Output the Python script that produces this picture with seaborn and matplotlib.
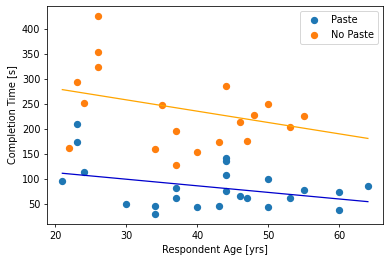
import matplotlib
matplotlib.use("Agg")
import matplotlib.pyplot as plt
import pandas as pd
import seaborn as sns

# Paste group
paste_age = [21, 23, 23, 24, 30, 34, 34, 37, 37, 40, 43, 44, 44, 44, 44,
             46, 47, 50, 50, 53, 55, 60, 60, 64]
paste_time = [95, 210, 173, 113, 50, 46, 29, 81, 62, 44, 46, 142, 136, 107, 75,
              66, 62, 99, 44, 62, 77, 73, 38, 85]

# No Paste group
nopaste_age = [22, 23, 24, 26, 26, 26, 34, 35, 37, 37, 40, 43, 44, 46, 47,
               48, 50, 53, 55]
nopaste_time = [161, 294, 252, 427, 355, 325, 160, 249, 196, 128, 153, 173, 286, 214, 175,
                228, 250, 204, 226]

# trend lines (over the full age range)
trend_age = [21, 64]
paste_trend = [111, 54]
nopaste_trend = [279, 181]

df_paste = pd.DataFrame({'age': paste_age, 'time': paste_time})
df_nopaste = pd.DataFrame({'age': nopaste_age, 'time': nopaste_time})

fig = plt.figure(figsize=(389 / 70, 262 / 70), dpi=70)
ax = fig.add_axes([0.121, 0.145, 0.864, 0.832])

sns.scatterplot(data=df_paste, x='age', y='time', ax=ax, color='tab:blue',
                s=36, edgecolor='tab:blue', linewidth=1.5, label='Paste')
sns.scatterplot(data=df_nopaste, x='age', y='time', ax=ax, color='tab:orange',
                s=36, edgecolor='tab:orange', linewidth=1.5, label='No Paste')

sns.lineplot(x=trend_age, y=paste_trend, ax=ax, color='mediumblue', linewidth=1.3)
sns.lineplot(x=trend_age, y=nopaste_trend, ax=ax, color='orange', linewidth=1.3)

ax.set_xlabel('Respondent Age [yrs]')
ax.set_ylabel('Completion Time [s]')
ax.set_yticks([50, 100, 150, 200, 250, 300, 350, 400])
ax.set_xticks([20, 30, 40, 50, 60])
ax.legend(loc='upper right')

fig.savefig('out.png', dpi=70)
